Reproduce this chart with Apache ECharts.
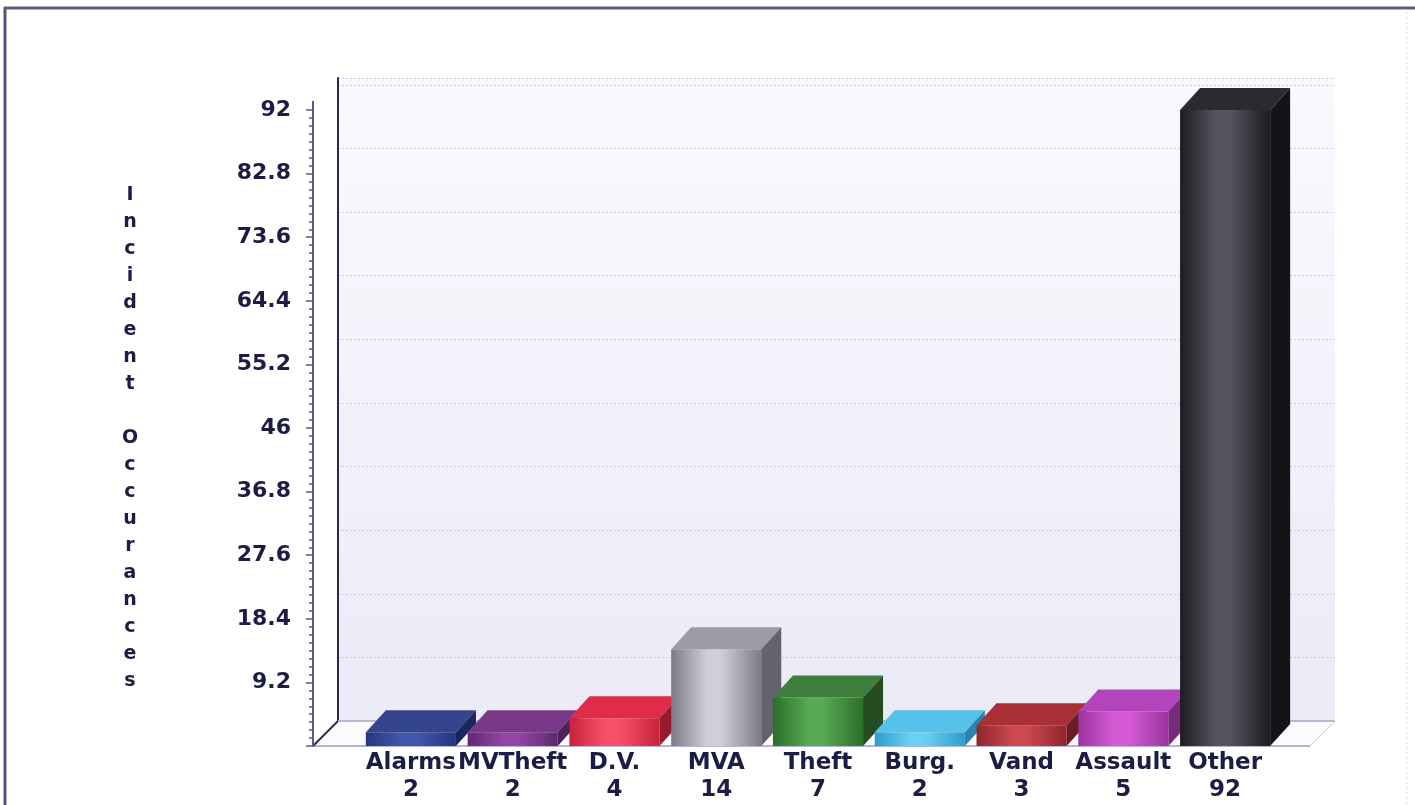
<!DOCTYPE html>
<html><head><meta charset="utf-8">
<script src="https://cdn.jsdelivr.net/npm/echarts@6/dist/echarts.min.js"></script>
<style>html,body{margin:0;padding:0;background:#fff}#c{width:1415px;height:805px}</style>
</head><body><div id="c"></div>
<script>
// ---- data ----
const categories = ['Alarms', 'MVTheft', 'D.V.', 'MVA', 'Theft', 'Burg.', 'Vand', 'Assault', 'Other'];
const values = [2, 2, 4, 14, 7, 2, 3, 5, 92];
const yTickLabels = ['', '9.2', '18.4', '27.6', '36.8', '46', '55.2', '64.4', '73.6', '82.8', '92'];
const yAxisTitle = 'Incident Occurances';

// ---- styles ----
const palette = [
  {edge: '#26367e', mid: '#4258b0', top: '#34448e', side: '#1c265c'},
  {edge: '#5e2a6e', mid: '#9446a6', top: '#7a3888', side: '#4e2058'},
  {edge: '#c82238', mid: '#f8506a', top: '#e02c48', side: '#981a2c'},
  {edge: '#7c7c88', mid: '#cfcfd8', top: '#9c9ca6', side: '#63636e'},
  {edge: '#2e6e2c', mid: '#58aa54', top: '#3e7e3c', side: '#244e22'},
  {edge: '#2e9ccc', mid: '#6cd0f2', top: '#56c2ea', side: '#2a86ae'},
  {edge: '#8e262c', mid: '#cc4a50', top: '#a83036', side: '#6c1c20'},
  {edge: '#9a349e', mid: '#d65ad6', top: '#b444bc', side: '#7a2a7e'},
  {edge: '#1c1c22', mid: '#55555f', top: '#2a2a30', side: '#141418'}
];
const textColor = '#1c1c44';
const DX = 20, DY = -22;

const chart = echarts.init(document.getElementById('c'), null, {renderer: 'canvas'});

function renderBar(params, api) {
  const i = api.value(0), v = api.value(1);
  const base = api.coord([i, 0]);
  const top = api.coord([i, v]);
  const band = api.size([1, 0])[0];
  const bw = band * 0.885;
  const x0 = base[0] - bw / 2, x1 = x0 + bw;
  const yb = base[1], yt = top[1];
  const c = palette[i % palette.length];
  const frontFill = new echarts.graphic.LinearGradient(0, 0, 1, 0, [
    {offset: 0, color: c.edge}, {offset: 0.4, color: c.mid},
    {offset: 0.55, color: c.mid}, {offset: 1, color: c.edge}
  ]);
  return {
    type: 'group',
    children: [
      {type: 'rect', shape: {x: x0, y: yt, width: bw, height: yb - yt}, style: {fill: frontFill}},
      {type: 'polygon', shape: {points: [[x0, yt], [x0 + DX, yt + DY], [x1 + DX, yt + DY], [x1, yt]]}, style: {fill: c.top}},
      {type: 'polygon', shape: {points: [[x1, yt], [x1 + DX, yt + DY], [x1 + DX, yb + DY], [x1, yb]]}, style: {fill: c.side}}
    ]
  };
}

const option = {
  animation: false,
  backgroundColor: '#ffffff',
  grid: [
    {left: 360, width: 916, top: 110, bottom: 59, show: false},
    {left: 338, width: 997, top: 78, bottom: 84, show: true, borderWidth: 0,
     backgroundColor: new echarts.graphic.LinearGradient(0, 0, 0, 1, [
       {offset: 0, color: '#f9f9fe'}, {offset: 1, color: '#ebebf8'}
     ])}
  ],
  xAxis: [
    {gridIndex: 0, type: 'category', data: categories,
     axisLine: {show: false}, axisTick: {show: false},
     axisLabel: {
       margin: 4, interval: 0,
       formatter: (val, idx) => val + '\n' + values[idx],
       fontFamily: 'DejaVu Sans', fontWeight: 'bold', fontSize: 23, lineHeight: 27, color: textColor
     }},
    {gridIndex: 1, type: 'value', show: false, min: 0, max: 1}
  ],
  yAxis: [
    {gridIndex: 0, type: 'value', min: 0, max: 92, interval: 9.2, offset: 47,
     axisLine: {show: true, lineStyle: {color: '#5a5a82', width: 2}},
     axisTick: {show: true, length: 7, lineStyle: {color: '#5a5a82', width: 1.5}},
     minorTick: {show: true, splitNumber: 8, length: 4, lineStyle: {color: '#5a5a82', width: 1.5}},
     splitLine: {show: false},
     axisLabel: {
       margin: 22,
       formatter: (v) => yTickLabels[Math.round(v / 9.2)] ?? '',
       fontFamily: 'DejaVu Sans', fontWeight: 'bold', fontSize: 22, color: textColor
     }},
    {gridIndex: 1, type: 'value', min: 0, max: 93, interval: 9.2,
     axisLine: {show: true, lineStyle: {color: '#2a2a50', width: 2}},
     axisTick: {show: false}, axisLabel: {show: false},
     splitLine: {show: true, lineStyle: {color: '#cacae4', width: 1, type: [2, 2]}}}
  ],
  graphic: [
    // floor
    {type: 'polygon', z: 1, shape: {points: [[313, 746], [338, 721], [1335, 721], [1310, 746]]},
     style: {fill: '#fbfbfe'}},
    {type: 'line', z: 1, shape: {x1: 338, y1: 721, x2: 1335, y2: 721}, style: {stroke: '#b8b8d4', lineWidth: 2}},
    {type: 'line', z: 1, shape: {x1: 313, y1: 746, x2: 1310, y2: 746}, style: {stroke: '#b4b4d0', lineWidth: 2}},
    {type: 'line', z: 1, shape: {x1: 1310, y1: 746, x2: 1335, y2: 721}, style: {stroke: '#c8c8dc', lineWidth: 1}},
    {type: 'line', z: 3, shape: {x1: 313, y1: 746, x2: 338, y2: 721}, style: {stroke: '#2a2a50', lineWidth: 2}},
    {type: 'line', z: 3, shape: {x1: 313, y1: 746, x2: 313, y2: 101}, style: {stroke: '#5a5a82', lineWidth: 2}},
    // y axis title
    {type: 'text', z: 10, x: 130, y: 438,
     style: {text: yAxisTitle.split('').join('\n'), align: 'center', verticalAlign: 'middle',
             lineHeight: 27, font: 'bold 19px "DejaVu Sans"', fill: textColor}},
    // frame
    {type: 'line', z: 20, shape: {x1: 5, y1: 805, x2: 5, y2: 7}, style: {stroke: '#55557a', lineWidth: 3}},
    {type: 'line', z: 20, shape: {x1: 4, y1: 8, x2: 1415, y2: 8}, style: {stroke: '#5e5e80', lineWidth: 3}},
    {type: 'line', z: 20, shape: {x1: 1407, y1: 12, x2: 1407, y2: 805},
     style: {stroke: '#d6d6e0', lineWidth: 1, lineDash: [2, 3]}}
  ],
  series: [{
    type: 'custom', xAxisIndex: 0, yAxisIndex: 0, z: 5, clip: false,
    renderItem: renderBar,
    data: values.map((v, i) => [i, v])
  }]
};
chart.setOption(option);
</script></body></html>
